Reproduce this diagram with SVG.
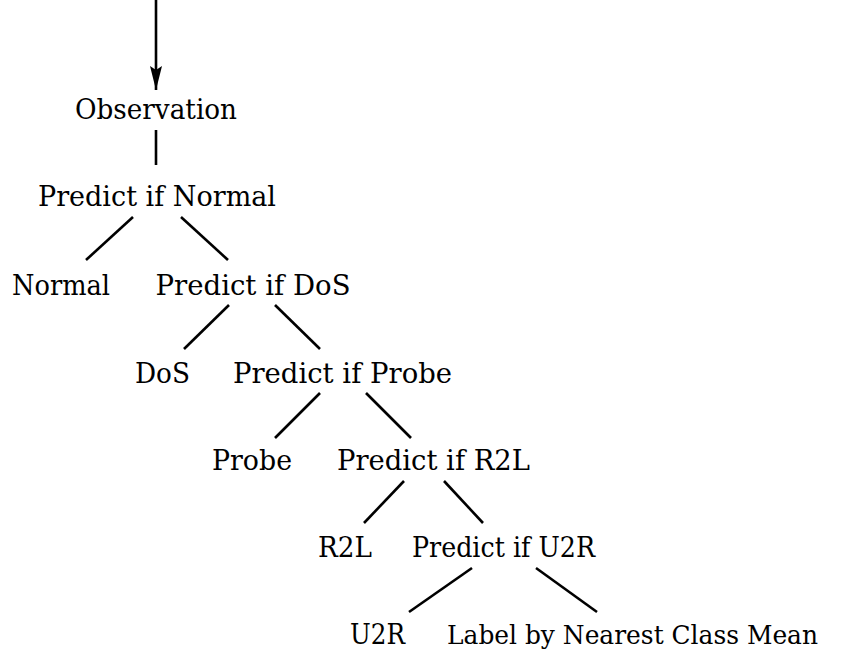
<svg xmlns="http://www.w3.org/2000/svg" width="861" height="654" viewBox="0 0 861 654">
<style>
.t{font-family:'DejaVu Serif','Liberation Serif',serif;font-size:28px;fill:#000;text-anchor:middle}
.e{stroke:#000;stroke-width:2.6;fill:none}
</style>
<defs>
<marker id="ah" markerWidth="12" markerHeight="24" refX="6" refY="24" orient="0" markerUnits="userSpaceOnUse" viewBox="0 0 12 24">
<path d="M0,0 L6,4 L12,0 L6,24 Z" fill="#000"/>
</marker>
</defs>
<g id="connectors">
<line class="e" x1="156" y1="0" x2="156" y2="90" marker-end="url(#ah)"/>
<line class="e" x1="156" y1="130" x2="156" y2="165"/>
<line class="e" x1="133" y1="217" x2="86" y2="260"/>
<line class="e" x1="181" y1="217" x2="228" y2="260"/>
<line class="e" x1="229" y1="305" x2="184" y2="349"/>
<line class="e" x1="275" y1="305" x2="320" y2="349"/>
<line class="e" x1="320" y1="393" x2="275" y2="438"/>
<line class="e" x1="366" y1="393" x2="411" y2="438"/>
<line class="e" x1="404" y1="481" x2="364" y2="523"/>
<line class="e" x1="444" y1="481" x2="483" y2="523"/>
<line class="e" x1="472" y1="568" x2="409" y2="612"/>
<line class="e" x1="536" y1="568" x2="597" y2="612"/>
</g>
<g id="observation"><text class="t" x="156" y="119" textLength="162" lengthAdjust="spacingAndGlyphs">Observation</text></g>
<g id="predict-normal"><text class="t" x="157" y="206" textLength="238" lengthAdjust="spacingAndGlyphs">Predict if Normal</text></g>
<g id="normal"><text class="t" x="61" y="295" textLength="98" lengthAdjust="spacingAndGlyphs">Normal</text></g>
<g id="predict-dos"><text class="t" x="253" y="295" textLength="195" lengthAdjust="spacingAndGlyphs">Predict if DoS</text></g>
<g id="dos"><text class="t" x="162.5" y="383" textLength="55" lengthAdjust="spacingAndGlyphs">DoS</text></g>
<g id="predict-probe"><text class="t" x="342.5" y="383" textLength="219" lengthAdjust="spacingAndGlyphs">Predict if Probe</text></g>
<g id="probe"><text class="t" x="252" y="470" textLength="80" lengthAdjust="spacingAndGlyphs">Probe</text></g>
<g id="predict-r2l"><text class="t" x="433.5" y="470" textLength="193" lengthAdjust="spacingAndGlyphs">Predict if R2L</text></g>
<g id="r2l"><text class="t" x="345" y="557" textLength="54" lengthAdjust="spacingAndGlyphs">R2L</text></g>
<g id="predict-u2r"><text class="t" x="503.5" y="557" textLength="183" lengthAdjust="spacingAndGlyphs">Predict if U2R</text></g>
<g id="u2r"><text class="t" x="377.5" y="644" textLength="55" lengthAdjust="spacingAndGlyphs">U2R</text></g>
<g id="label-nearest"><text class="t" x="632.5" y="644" font-size="26" style="font-size:26px" textLength="371" lengthAdjust="spacingAndGlyphs">Label by Nearest Class Mean</text></g>
</svg>
